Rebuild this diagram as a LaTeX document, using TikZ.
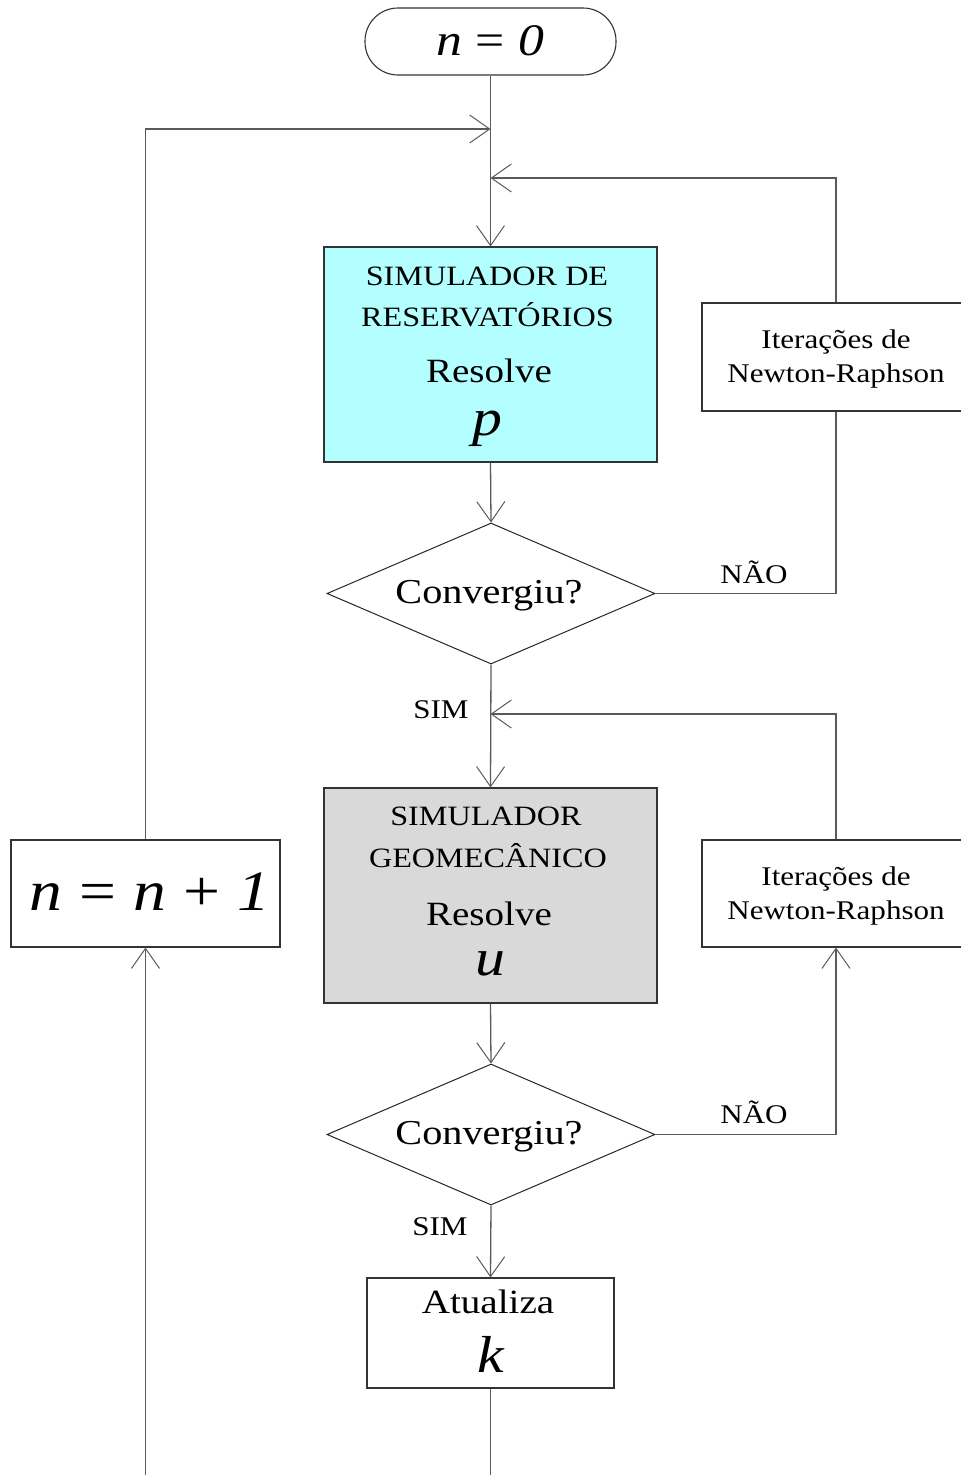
\documentclass[tikz,border=0pt]{standalone}
\usepackage{fontspec}
\setmainfont{Liberation Serif}
\newfontfamily\widefont[FakeStretch=1.15]{Liberation Serif}
\usetikzlibrary{arrows.meta,shapes.geometric}

\definecolor{reservcyan}{RGB}{179,255,255}
\definecolor{geomgray}{RGB}{217,217,217}
\definecolor{linegray}{RGB}{90,90,90}

\begin{document}
\begin{tikzpicture}[x=1pt,y=1pt,yscale=-1,
  box/.style={draw=black!80,line width=1.1pt,rectangle,inner sep=0pt},
  decision/.style={draw=black!85,line width=1pt,diamond,minimum width=328pt,minimum height=141pt,inner sep=0pt},
  flow/.style={draw=linegray,line width=1.3pt,-{Straight Barb[length=20pt,width=28pt,line width=1pt]}},
  plain/.style={draw=linegray,line width=1.3pt},
  txt/.style={anchor=base,inner sep=0pt}]
\clip (0,0) rectangle (961,1475);

%Shape: Terminal
\node[box,rounded corners=33pt,minimum width=251pt,minimum height=67pt] (start) at (490.5,41.5) {};
% Text Node
\node[txt] (start-t) at (490,55) {\widefont\fontsize{45}{50}\selectfont\textit{n}\hspace{0.3em}=\hspace{0.3em}\textit{0}};

%Shape: Rectangle (reservatorio)
\node[box,fill=reservcyan,minimum width=333pt,minimum height=215pt] (res) at (490.5,354.5) {};
% Text Node
\node[txt] (res-t1) at (487,285) {\widefont\fontsize{28}{34}\selectfont SIMULADOR DE};
\node[txt] (res-t2) at (487.5,326) {\widefont\fontsize{28}{34}\selectfont RESERVATÓRIOS};
\node[txt] (res-t3) at (489,382) {\widefont\fontsize{34}{40}\selectfont Resolve};
\node[txt] (res-t4) at (487,435) {\widefont\fontsize{52}{60}\selectfont\textit{p}};

%Shape: Rectangle (Newton-Raphson 1)
\node[box,minimum width=268pt,minimum height=108pt] (nr1) at (836,357) {};
% Text Node
\node[txt] (nr1-t1) at (836,348) {\widefont\fontsize{27}{32}\selectfont Iterações de};
\node[txt] (nr1-t2) at (836,382) {\widefont\fontsize{27}{32}\selectfont Newton-Raphson};

%Shape: Diamond
\node[decision] (conv1) at (491,593.5) {};
% Text Node
\node[txt] (conv1-t) at (489,603) {\widefont\fontsize{35}{40}\selectfont Convergiu?};

%Shape: Rectangle (geomecanico)
\node[box,fill=geomgray,minimum width=333pt,minimum height=215pt] (geo) at (490.5,895.5) {};
% Text Node
\node[txt] (geo-t1) at (486,825) {\widefont\fontsize{28}{34}\selectfont SIMULADOR};
\node[txt] (geo-t2) at (488,867) {\widefont\fontsize{28}{34}\selectfont GEOMECÂNICO};
\node[txt] (geo-t3) at (489,925) {\widefont\fontsize{34}{40}\selectfont Resolve};
\node[txt] (geo-t4) at (490,975) {\widefont\fontsize{52}{60}\selectfont\textit{u}};

%Shape: Rectangle (Newton-Raphson 2)
\node[box,minimum width=268pt,minimum height=107pt] (nr2) at (836,893.5) {};
% Text Node
\node[txt] (nr2-t1) at (836,885) {\widefont\fontsize{27}{32}\selectfont Iterações de};
\node[txt] (nr2-t2) at (836,919) {\widefont\fontsize{27}{32}\selectfont Newton-Raphson};

%Shape: Diamond
\node[decision] (conv2) at (491,1134.5) {};
% Text Node
\node[txt] (conv2-t) at (489,1144) {\widefont\fontsize{35}{40}\selectfont Convergiu?};

%Shape: Rectangle (atualiza)
\node[box,minimum width=247pt,minimum height=110pt] (upd) at (490.5,1333) {};
% Text Node
\node[txt] (upd-t1) at (488,1313) {\widefont\fontsize{34}{40}\selectfont Atualiza};
\node[txt] (upd-t2) at (491,1372) {\widefont\fontsize{52}{60}\selectfont\textit{k}};

%Shape: Rectangle (incremento)
\node[box,minimum width=269pt,minimum height=107pt] (inc) at (145.5,893.5) {};
% Text Node
\node[txt] (inc-t) at (150,910) {\widefont\fontsize{57}{62}\selectfont\textit{n}\hspace{0.3em}=\hspace{0.3em}\textit{n}\hspace{0.3em}+\hspace{0.3em}\textit{1}};

% junctions and loose ends
\coordinate (j1) at (490.5,129);
\coordinate (j2) at (490.5,178);
\coordinate (j3) at (490.5,714);
\coordinate (out) at (490.5,1490);
\coordinate (back) at (145.5,1490);

%Straight Lines
\draw[flow] (start.south) -- (res.north);
\draw[flow] (inc.north) |- (j1);
\draw[flow] (nr1.north) |- (j2);
\draw[flow] (res.south) -- (conv1.north);
\draw[plain] (conv1.east) -| (nr1.south);
\draw[flow] (conv1.south) -- (geo.north);
\draw[flow] (nr2.north) |- (j3);
\draw[flow] (geo.south) -- (conv2.north);
\draw[flow] (conv2.east) -| (nr2.south);
\draw[flow] (conv2.south) -- (upd.north);
\draw[plain] (upd.south) -- (out);
\draw[flow] (back) -- (inc.south);

% Text Node
\node[txt] (no1) at (754,583) {\widefont\fontsize{27}{32}\selectfont NÃO};
\node[txt] (no2) at (754,1123) {\widefont\fontsize{27}{32}\selectfont NÃO};
\node[txt] (yes1) at (441,718) {\widefont\fontsize{27}{32}\selectfont SIM};
\node[txt] (yes2) at (440,1235) {\widefont\fontsize{27}{32}\selectfont SIM};

\end{tikzpicture}
\end{document}
